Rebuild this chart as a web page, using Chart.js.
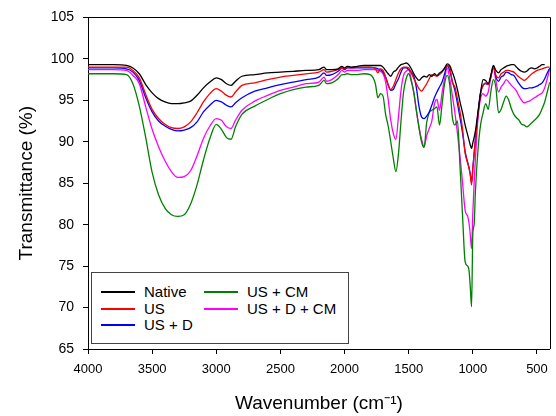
<!DOCTYPE html>
<html>
<head>
<meta charset="utf-8">
<script src="https://cdn.jsdelivr.net/npm/chart.js@4.4.0/dist/chart.umd.min.js"></script>
<style>
    html, body { margin: 0; padding: 0; background: #fff; }
    #area { position: relative; width: 556px; height: 416px; }
    #legenda {
        position: absolute; left: 91px; top: 272px; width: 256px; height: 70px;
        border: 1px solid #444; background: #fff;
        font: 15px Arial, 'Liberation Sans', sans-serif; color: #000;
    }
    .item { position: absolute; height: 18px; line-height: 18px; white-space: nowrap; }
    .traco { position: absolute; left: 0; top: 8px; width: 34px; height: 1.5px; }
    .texto { position: absolute; left: 43px; top: 0; }
</style>
</head>
<body>
<div id="area">
    <canvas id="graficoFTIR" width="556" height="416"></canvas>
    <div id="legenda"></div>
</div>
<script>
// numero de onda (cm-1), do maior para o menor
const numeroOnda = [
    4000, 3800, 3700, 3650, 3600, 3550, 3500, 3450, 3400, 3350,
    3300, 3250, 3200, 3150, 3100, 3050, 3000, 2960, 2920, 2885,
    2850, 2800, 2700, 2600, 2500, 2400, 2300, 2200, 2160, 2140,
    2100, 2050, 2020, 2000, 1980, 1950, 1900, 1850, 1800, 1760,
    1740, 1720, 1700, 1680, 1660, 1640, 1620, 1600, 1580, 1560,
    1540, 1520, 1500, 1480, 1460, 1440, 1420, 1400, 1380, 1360,
    1340, 1320, 1300, 1280, 1260, 1240, 1220, 1200, 1180, 1160,
    1140, 1120, 1100, 1080, 1060, 1040, 1030, 1020, 1010, 1000,
    990, 980, 960, 940, 920, 900, 880, 860, 840, 820,
    800, 780, 760, 740, 720, 700, 680, 660, 640, 620,
    600, 580, 560, 540, 520, 500, 480, 460, 440, 420,
    400
]

const nativo = [
    99.3, 99.3, 99.2, 98.9, 98.2, 96.9, 95.9, 95.2, 94.8, 94.6,
    94.6, 94.7, 94.9, 95.6, 96.5, 97.2, 97.7, 97.5, 97.0, 96.8,
    97.3, 97.9, 98.1, 98.3, 98.4, 98.5, 98.6, 98.7, 99.0, 98.7,
    98.7, 98.8, 99.1, 98.9, 99.1, 99.0, 99.1, 99.2, 99.2, 99.2,
    99.2, 99.2, 99.0, 98.6, 98.2, 97.9, 98.4, 98.6, 99.0, 99.3,
    99.4, 99.5, 99.3, 98.8, 98.2, 97.7, 97.4, 97.7, 97.9, 97.8,
    98.1, 97.9, 98.2, 98.0, 98.3, 98.5, 98.9, 99.4, 99.2, 98.4,
    97.5, 96.3, 94.8, 93.5, 92.0, 90.8, 90.2, 89.6, 89.2, 89.9,
    90.5, 91.3, 93.6, 95.9, 97.5, 97.4, 97.0, 98.0, 99.2, 98.6,
    98.3, 98.7, 98.9, 99.1, 99.2, 99.3, 99.3, 99.0, 98.7, 98.5,
    98.4, 98.5, 98.8, 98.9, 98.8, 98.9, 99.1, 99.3, 99.3, null,
    null
]

const us = [
    99.0, 99.0, 99.0, 98.6, 97.7, 95.7, 93.9, 92.8, 92.1, 91.7,
    91.6, 91.8, 92.4, 93.5, 94.8, 95.8, 96.4, 96.1, 95.6, 95.4,
    96.0, 96.8, 97.1, 97.5, 97.8, 98.0, 98.2, 98.4, 98.7, 98.4,
    98.5, 98.7, 98.9, 98.8, 99.0, 98.9, 99.0, 99.0, 99.0, 98.8,
    98.3, 98.8, 98.6, 97.8, 96.8, 96.3, 96.7, 97.5, 98.3, 98.8,
    99.0, 99.0, 98.9, 98.3, 97.6, 97.0, 96.4, 96.1, 96.5, 97.0,
    97.6, 98.1, 98.0, 97.9, 98.1, 98.4, 98.8, 99.2, 99.0, 97.2,
    96.6, 95.2, 93.6, 91.5, 88.6, 87.4, 86.8, 86.0, 84.8, 86.8,
    88.5, 90.2, 93.2, 95.8, 96.8, 97.1, 96.9, 97.8, 99.0, 98.0,
    97.7, 98.2, 98.4, 98.6, 98.6, 98.5, 98.4, 98.1, 97.8, 97.6,
    97.4, 97.6, 97.9, 98.2, 98.4, 98.6, 98.7, 98.8, 98.9, 99.0,
    99.0
]

const usD = [
    98.9, 98.9, 98.8, 98.4, 97.4, 95.3, 93.6, 92.5, 91.9, 91.5,
    91.3, 91.4, 91.7, 92.4, 93.6, 94.4, 95.0, 94.8, 94.4, 94.2,
    94.7, 95.3, 96.1, 96.5, 96.9, 97.2, 97.5, 97.8, 98.3, 98.0,
    98.1, 98.5, 98.9, 98.7, 98.9, 98.9, 98.9, 98.9, 98.9, 98.9,
    98.8, 98.7, 98.4, 97.8, 96.9, 96.2, 96.3, 97.0, 97.6, 98.4,
    98.9, 98.9, 98.7, 98.4, 97.9, 96.5, 94.3, 93.0, 92.8, 93.1,
    93.6, 94.4, 95.3, 96.0, 96.6, 97.2, 98.2, 99.2, 98.6, 97.3,
    96.2, 94.6, 92.9, 91.0, 88.8, 87.5, 86.9, 86.1, 85.1, 86.8,
    88.6, 90.3, 93.4, 95.9, 96.8, 97.0, 96.9, 97.8, 99.1, 97.8,
    97.3, 97.8, 98.0, 98.4, 98.3, 98.1, 98.0, 97.5, 97.0, 96.6,
    96.4, 96.4, 96.5, 96.5, 96.6, 96.7, 96.9, 97.1, 97.6, 98.3,
    98.9
]

const usCM = [
    98.2, 98.2, 98.1, 97.0, 94.3, 90.5, 86.3, 83.6, 82.0, 81.2,
    81.0, 81.2, 82.5, 84.8, 87.8, 90.4, 92.1, 91.5, 90.5, 90.3,
    91.8, 93.3, 94.3, 95.1, 95.8, 96.3, 96.6, 96.8, 97.4, 97.0,
    97.1, 97.6, 98.1, 98.1, 98.2, 98.1, 98.1, 98.2, 98.1, 97.0,
    95.3, 95.8, 95.5, 93.3, 91.9, 90.0, 88.0, 86.4, 88.5, 92.5,
    96.0, 97.6, 98.2, 97.3, 96.0, 93.8, 91.7, 90.0, 89.3, 92.3,
    93.5, 93.8, 94.0, 94.2, 92.0, 94.5, 97.0, 98.0, 96.8, 93.0,
    92.0, 92.5, 87.0, 81.0, 75.5, 75.0, 74.5, 72.5, 70.1, 79.0,
    80.0, 84.0, 89.0, 92.0, 93.5, 94.6, 93.9, 96.0, 97.5, 96.5,
    93.5, 93.9, 94.8, 95.5, 95.0, 94.0, 93.3, 92.9, 92.6, 92.1,
    92.0, 91.8, 92.0, 92.3, 92.6, 92.9, 93.3, 94.0, 94.8, 96.0,
    97.2
]

const usDCM = [
    98.7, 98.7, 98.6, 98.0, 97.0, 94.2, 91.5, 89.4, 87.7, 86.4,
    85.7, 85.8, 86.5, 88.3, 90.4, 91.9, 92.8, 92.6, 91.8, 91.6,
    92.6, 93.8, 94.9, 95.6, 96.2, 96.6, 97.0, 97.2, 97.8, 97.3,
    97.5, 98.1, 98.6, 98.4, 98.6, 98.6, 98.6, 98.7, 98.7, 98.7,
    98.6, 98.5, 98.2, 97.2, 95.1, 92.6, 91.0, 90.3, 93.0, 96.2,
    98.0, 98.5, 98.7, 97.5, 95.8, 93.7, 91.8, 90.3, 89.4, 90.7,
    91.6, 92.5, 94.5, 95.1, 93.8, 95.9, 97.6, 98.9, 97.6, 95.6,
    93.5, 91.0, 88.2, 85.0, 81.7, 81.0, 80.2, 78.8, 77.1, 81.5,
    85.0, 88.0, 92.8, 95.2, 95.8, 95.5, 96.0, 97.8, 99.0, 97.3,
    96.0, 96.6, 97.0, 97.5, 97.2, 96.8, 96.5, 96.1, 95.5, 95.0,
    94.7, 94.8, 94.9, 95.1, 95.3, 95.5, 95.7, 95.9, 96.5, 97.6,
    98.8
]

const nomesSeries = ['Native', 'US', 'US + D', 'US + CM', 'US + D + CM']
const coresSeries = ['#000000', '#ff0000', '#0000ff', '#008000', '#ff00ff']
const valoresSeries = [nativo, us, usD, usCM, usDCM]

// marcas dos eixos
const ticksX = [4000, 3500, 3000, 2500, 2000, 1500, 1000, 500]
const ticksY = [65, 70, 75, 80, 85, 90, 95, 100, 105]

const fonte = "Arial, 'Liberation Sans', sans-serif"

// borda de cima e da direita da area do grafico
const bordaArea = {
    id: 'bordaArea',
    afterDatasetsDraw(chart) {
        const { ctx, chartArea: { left, top, right, bottom } } = chart
        ctx.save()
        ctx.strokeStyle = '#000'
        ctx.lineWidth = 1
        ctx.beginPath()
        ctx.moveTo(left, Math.round(top) + 0.5)
        ctx.lineTo(Math.round(right) + 0.5, Math.round(top) + 0.5)
        ctx.lineTo(Math.round(right) + 0.5, bottom)
        ctx.stroke()
        ctx.restore()
    }
}

function criarGraficoFTIR() {
    let datasets = []
    for (let i = 0; i < nomesSeries.length; i++) {
        datasets.push({
            label: nomesSeries[i],
            data: numeroOnda.map((w, j) => ({ x: w, y: valoresSeries[i][j] })),
            borderColor: coresSeries[i],
            backgroundColor: coresSeries[i],
            borderWidth: 1.3,
            pointRadius: 0,
            cubicInterpolationMode: 'monotone',
            spanGaps: false,
            fill: false
        })
    }

    new Chart(document.getElementById('graficoFTIR'), {
        type: 'line',
        data: { datasets: datasets },
        options: {
            responsive: false,
            animation: false,
            devicePixelRatio: 1,
            layout: { padding: { left: 0, right: 6, top: 16, bottom: 0 } },
            plugins: {
                legend: { display: false },
                tooltip: { enabled: false }
            },
            scales: {
                x: {
                    type: 'linear',
                    reverse: true,
                    min: 400,
                    max: 4000,
                    afterBuildTicks: s => { s.ticks = ticksX.map(v => ({ value: v })) },
                    afterFit: s => { s.height = 67 },
                    ticks: {
                        padding: 8,
                        color: '#000',
                        font: { family: fonte, size: 13 },
                        maxRotation: 0,
                        autoSkip: false,
                        callback: v => String(v)
                    },
                    grid: { drawOnChartArea: false, drawTicks: true, tickLength: 5, color: '#000' },
                    border: { color: '#000', width: 1 },
                    title: {
                        display: true,
                        text: 'Wavenumber (cm⁻¹)',
                        color: '#000',
                        font: { family: fonte, size: 19 },
                        padding: { top: 0, bottom: 1 }
                    }
                },
                y: {
                    type: 'linear',
                    min: 65,
                    max: 105,
                    afterBuildTicks: s => { s.ticks = ticksY.map(v => ({ value: v })) },
                    afterFit: s => { s.width = 88 },
                    ticks: {
                        padding: 9,
                        color: '#000',
                        font: { family: fonte, size: 14 }
                    },
                    grid: { drawOnChartArea: false, drawTicks: true, tickLength: 5, color: '#000' },
                    border: { color: '#000', width: 1 },
                    title: {
                        display: true,
                        text: 'Transmittance (%)',
                        color: '#000',
                        font: { family: fonte, size: 19 },
                        padding: { top: 15, bottom: 0 }
                    }
                }
            }
        },
        plugins: [bordaArea]
    })
}

function criarLegenda() {
    const caixa = document.getElementById('legenda')
    for (let i = 0; i < nomesSeries.length; i++) {
        const coluna = Math.floor(i / 3)
        const linha = i % 3
        const item = document.createElement('div')
        item.className = 'item'
        item.style.left = (9 + coluna * 103) + 'px'
        item.style.top = Math.round(10 + linha * 16.7) + 'px'
        item.innerHTML = `<span class="traco" style="background:${coresSeries[i]}"></span><span class="texto">${nomesSeries[i]}</span>`
        caixa.appendChild(item)
    }
}

criarGraficoFTIR()
criarLegenda()
</script>
</body>
</html>
